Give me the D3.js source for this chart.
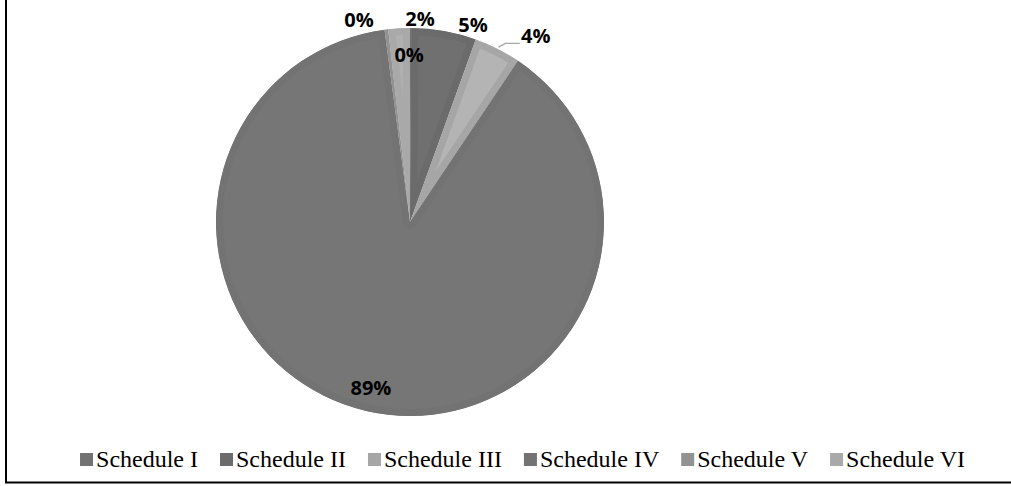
<!DOCTYPE html>
<html>
<head>
<meta charset="utf-8">
<script src="https://cdn.jsdelivr.net/npm/d3@7"></script>
<style>
  html, body { margin: 0; padding: 0; background: #fff; }
  svg { display: block; }
</style>
</head>
<body>
<svg id="chart" width="1011" height="486"></svg>
<script>
// ---- data ----
const categories = ["Schedule I", "Schedule II", "Schedule III", "Schedule IV", "Schedule V", "Schedule VI"];
const values = [0.1, 5.4, 3.9, 88.5, 0.3, 1.8];
const labels = ["0%", "5%", "4%", "89%", "0%", "2%"];
const colors = ["#727272", "#6b6b6b", "#a6a6a6", "#737373", "#929292", "#a9a9a9"];
const innerColors = ["#787878", "#707070", "#b4b4b4", "#767676", "#9a9a9a", "#b0b0b0"];
// label placement (polar: angle in degrees from 12 o'clock, radius in px)
const labelAngle = [-0.3, 17.7, 34, 193.3, -14.1, 2.8];
const labelRadius = [167, 207, 225, 170, 209, 203];

const svg = d3.select("#chart");
const W = 1011, H = 486;
const cx = 410, cy = 222, R = 194;

// frame (left and bottom edges visible)
svg.append("line").attr("x1", 6).attr("y1", 0).attr("x2", 6).attr("y2", 483)
  .attr("stroke", "#000").attr("stroke-width", 2);
svg.append("line").attr("x1", 5).attr("y1", 482.5).attr("x2", W).attr("y2", 482.5)
  .attr("stroke", "#000").attr("stroke-width", 2);

const pie = d3.pie().sort(null).value(d => d)(values);
const arc = d3.arc().innerRadius(0).outerRadius(R);

const g = svg.append("g").attr("transform", `translate(${cx},${cy})`);
const defs = svg.append("defs");

pie.forEach((p, i) => {
  const d = arc(p);
  defs.append("clipPath").attr("id", "clip" + i).append("path").attr("d", d);
  const s = g.append("g").attr("clip-path", `url(#clip${i})`);
  s.append("path").attr("d", d).attr("fill", innerColors[i])
    .attr("stroke", colors[i]).attr("stroke-width", 14).attr("stroke-linejoin", "round");
});

// leader line for Schedule III label
const a3 = (pie[2].startAngle + pie[2].endAngle) / 2;
const lx0 = Math.sin(a3) * (R + 2), ly0 = -Math.cos(a3) * (R + 2);
const la = labelAngle[2] * Math.PI / 180;
const tx = Math.sin(la) * labelRadius[2], ty = -Math.cos(la) * labelRadius[2];
g.append("polyline")
  .attr("points", `${lx0},${ly0} ${lx0 + 7},${ty + 8} ${tx - 16},${ty + 8}`)
  .attr("fill", "none").attr("stroke", "#a6a6a6").attr("stroke-width", 1.3);

// labels
labels.forEach((t, i) => {
  const a = labelAngle[i] * Math.PI / 180;
  const r = labelRadius[i];
  g.append("text")
    .attr("x", Math.sin(a) * r)
    .attr("y", -Math.cos(a) * r)
    .attr("dy", "0.36em")
    .attr("text-anchor", "middle")
    .attr("font-family", "'Open Sans', Lato, sans-serif")
    .attr("font-weight", 700)
    .attr("font-size", 20)
    .attr("fill", "#000")
    .text(t);
});

// legend
const legend = svg.append("g");
const fs = 24, sw = 13, gapIn = 3, gapOut = 22;
let x = 0;
categories.forEach((c, i) => {
  const it = legend.append("g");
  it.append("rect").attr("x", x).attr("y", -14).attr("width", sw).attr("height", sw).attr("fill", colors[i]);
  const t = it.append("text").attr("x", x + sw + gapIn).attr("y", 0)
    .attr("font-family", "'Liberation Serif', 'Times New Roman', serif")
    .attr("font-size", fs).attr("fill", "#000").text(c);
  x += sw + gapIn + t.node().getComputedTextLength() + gapOut;
});
const totalW = x - gapOut;
legend.attr("transform", `translate(${522.5 - totalW / 2},467)`);
</script>
</body>
</html>
